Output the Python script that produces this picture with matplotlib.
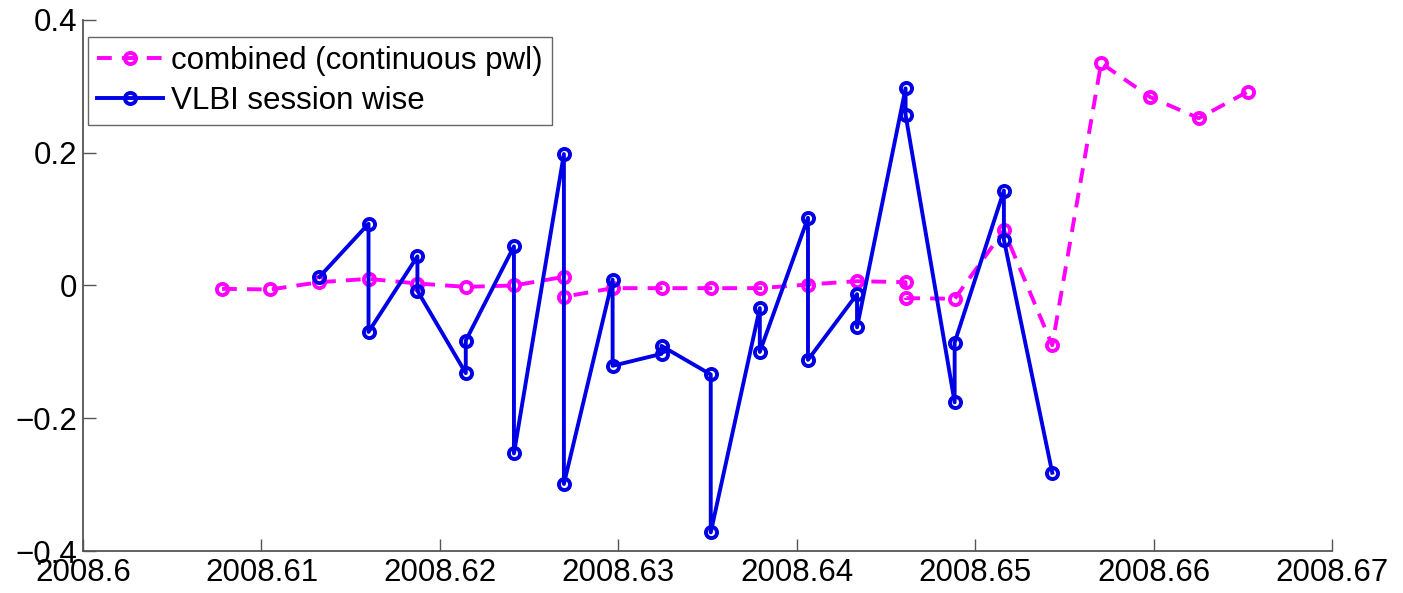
import numpy as np
import matplotlib
matplotlib.use("Agg")
import matplotlib.pyplot as plt

# combined (continuous piece-wise linear) series
combined_x = [2008.60779, 2008.61049, 2008.61325, 2008.61600, 2008.61874, 2008.62145,
              2008.62415, 2008.62695, 2008.62695, 2008.62968, 2008.63242, 2008.63518,
              2008.63793, 2008.64063, 2008.64338, 2008.64610, 2008.64610, 2008.64885,
              2008.65161, 2008.65432, 2008.65706, 2008.65980, 2008.66253, 2008.66527]
combined_y = [-0.005, -0.006, 0.005, 0.010, 0.003, -0.002,
              0.000, 0.013, -0.017, -0.004, -0.004, -0.004,
              -0.004, 0.0015, 0.0065, 0.005, -0.019, -0.020,
              0.083, -0.090, 0.335, 0.284, 0.252, 0.292]

# VLBI session wise series
vlbi_x = [2008.61325, 2008.61600, 2008.61600, 2008.61874, 2008.61874, 2008.62145,
          2008.62145, 2008.62415, 2008.62415, 2008.62695, 2008.62695, 2008.62968,
          2008.62968, 2008.63242, 2008.63242, 2008.63518, 2008.63518, 2008.63793,
          2008.63793, 2008.64063, 2008.64063, 2008.64338, 2008.64338, 2008.64610,
          2008.64610, 2008.64885, 2008.64885, 2008.65161, 2008.65161, 2008.65432]
vlbi_y = [0.013, 0.093, -0.070, 0.044, -0.008, -0.132,
          -0.083, 0.059, -0.253, 0.198, -0.299, 0.009,
          -0.121, -0.103, -0.091, -0.134, -0.372, -0.034,
          -0.100, 0.102, -0.112, -0.013, -0.063, 0.297,
          0.257, -0.176, -0.086, 0.143, 0.069, -0.282]

x_ticks = [2008.60, 2008.61, 2008.62, 2008.63, 2008.64, 2008.65, 2008.66, 2008.67]
x_tick_labels = ["2008.6", "2008.61", "2008.62", "2008.63", "2008.64", "2008.65", "2008.66", "2008.67"]
y_ticks = [-0.4, -0.2, 0.0, 0.2, 0.4]
y_tick_labels = ["\u22120.4", "\u22120.2", "0", "0.2", "0.4"]

plt.rcParams['font.family'] = ['Liberation Sans', 'DejaVu Sans']

fig = plt.figure(figsize=(14.03, 5.93), dpi=100)
ax = fig.add_axes([0.0592, 0.0708, 0.8902, 0.8955])

ax.plot(combined_x, combined_y, linestyle=(0, (3.8, 2.6)), color="#ff00ff", linewidth=2.8,
        marker="o", markersize=8, markerfacecolor="none", markeredgewidth=2.8,
        label="combined (continuous pwl)")
ax.plot(vlbi_x, vlbi_y, linestyle="-", color="#0000e6", linewidth=2.8,
        marker="o", markersize=8, markerfacecolor="none", markeredgewidth=2.8,
        label="VLBI session wise")

ax.set_xlim(2008.6, 2008.67)
ax.set_ylim(-0.4, 0.4)
ax.set_xticks(x_ticks)
ax.set_xticklabels(x_tick_labels)
ax.set_yticks(y_ticks)
ax.set_yticklabels(y_tick_labels)

ax.spines['top'].set_visible(False)
ax.spines['right'].set_visible(False)
for s in ['left', 'bottom']:
    ax.spines[s].set_color("#555555")
    ax.spines[s].set_linewidth(1.3)
ax.tick_params(direction="in", length=9, width=1.0, color="#555555", labelsize=22.5)
ax.tick_params(axis="y", pad=4)
ax.tick_params(axis="x", pad=5)

leg = ax.legend(loc="upper left", bbox_to_anchor=(0.004, 0.968), fontsize=22.5,
                frameon=True, fancybox=False, handlelength=2.1, handletextpad=0.26,
                borderpad=0.3, labelspacing=0.3, borderaxespad=0.0)
leg.get_frame().set_edgecolor("#404040")
leg.get_frame().set_linewidth(1.0)

fig.savefig("out.png", dpi=100)
